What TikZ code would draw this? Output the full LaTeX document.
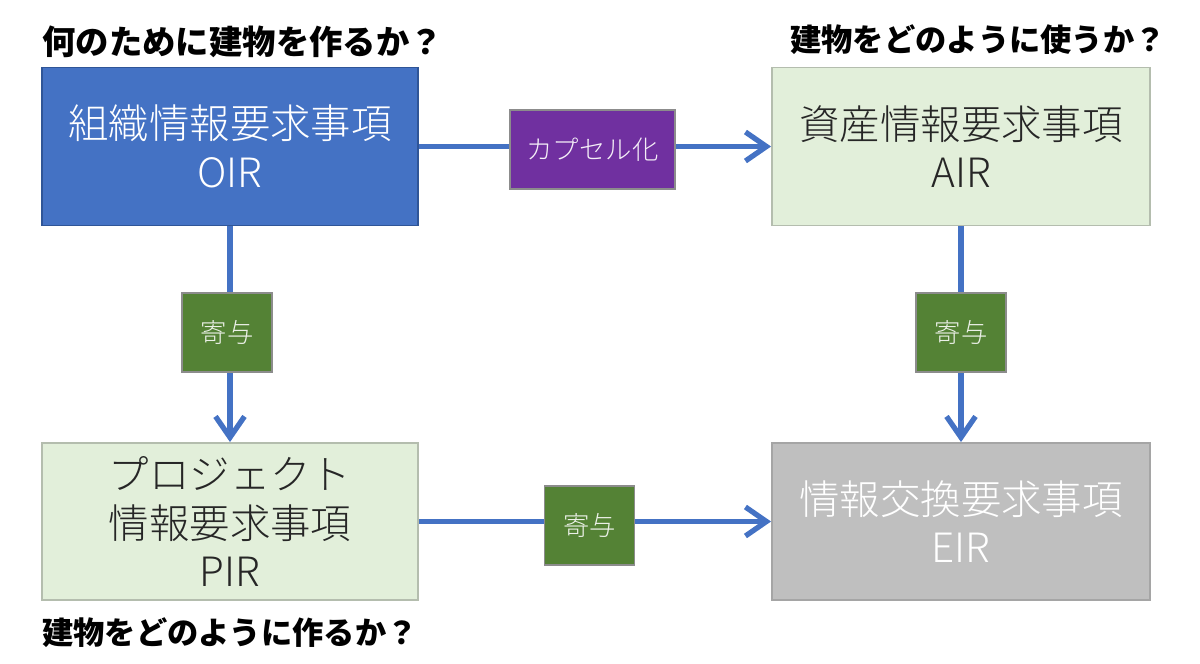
\documentclass[tikz,border=0pt]{standalone}
\usepackage{fontspec}
\setmainfont{Noto Sans CJK JP}
\newfontfamily\jplight{Noto Sans CJK JP Light}
\usetikzlibrary{arrows.meta}
\definecolor{oirblue}{HTML}{4472C4}
\definecolor{oirborder}{HTML}{2F5597}
\definecolor{palegreen}{HTML}{E2EFDA}
\definecolor{paleborder}{HTML}{B4BDAE}
\definecolor{eirgray}{HTML}{BFBFBF}
\definecolor{eirborder}{HTML}{A5A5A5}
\definecolor{capsule}{HTML}{7030A0}
\definecolor{contrib}{HTML}{548235}
\definecolor{labelborder}{HTML}{8C8C8C}
\tikzset{
  bigbox/.style={draw, line width=1.1pt, minimum width=7.52cm, minimum height=3.16cm,
    align=center, inner sep=0pt, font=\jplight\fontsize{23}{27.5}\selectfont},
  tagbox/.style={draw=labelborder, line width=1pt, minimum height=1.58cm, inner sep=0pt,
    font=\jplight\fontsize{15}{18}\selectfont},
  title/.style={font=\fontsize{19}{22}\selectfont\bfseries, inner sep=0pt},
  flow/.style={draw=oirblue, line width=3pt, -{Straight Barb[length=4.2mm,width=5.8mm]}},
}
\begin{document}
\begin{tikzpicture}[x=0.02cm,y=-0.02cm]
\useasboundingbox (0,0) rectangle (1200,663);
\node[bigbox, fill=oirblue, draw=oirborder, text=white] (oir) at (230,146.5) {組織情報要求事項\\OIR};
\node[bigbox, fill=palegreen, draw=paleborder, text=black!85, minimum width=7.56cm] (air) at (961,146.5) {資産情報要求事項\\AIR};
\node[bigbox, fill=palegreen, draw=paleborder, text=black!85, minimum height=3.14cm] (pir) at (230,521.5) {プロジェクト\\情報要求事項\\PIR};
\node[bigbox, fill=eirgray, draw=eirborder, text=white, minimum width=7.56cm, minimum height=3.14cm] (eir) at (961,521.5) {情報交換要求事項\\EIR};

\draw[flow] (oir) -- (air);
\draw[flow] (oir) -- (pir);
\draw[flow] (air) -- (eir);
\draw[flow] (pir) -- (eir);

\node[tagbox, fill=capsule, text=white!92!capsule, minimum width=3.3cm] (cap) at (592.5,149.5) {カプセル化};
\node[tagbox, fill=contrib, text=white!88!contrib, minimum width=1.8cm] (c1) at (227,332.5) {寄与};
\node[tagbox, fill=contrib, text=white!88!contrib, minimum width=1.8cm] (c2) at (961,332.5) {寄与};
\node[tagbox, fill=contrib, text=white!88!contrib, minimum width=1.8cm] (c3) at (589.5,525.5) {寄与};

\node[title, anchor=west] (t1) at (42,42) {何のために建物を作るか？};
\node[title, anchor=east, font=\fontsize{17.8}{22}\selectfont\bfseries] (t2) at (1166,40) {建物をどのように使うか？};
\node[title, anchor=west, font=\fontsize{17.8}{22}\selectfont\bfseries] (t3) at (42,633) {建物をどのように作るか？};
\end{tikzpicture}
\end{document}
